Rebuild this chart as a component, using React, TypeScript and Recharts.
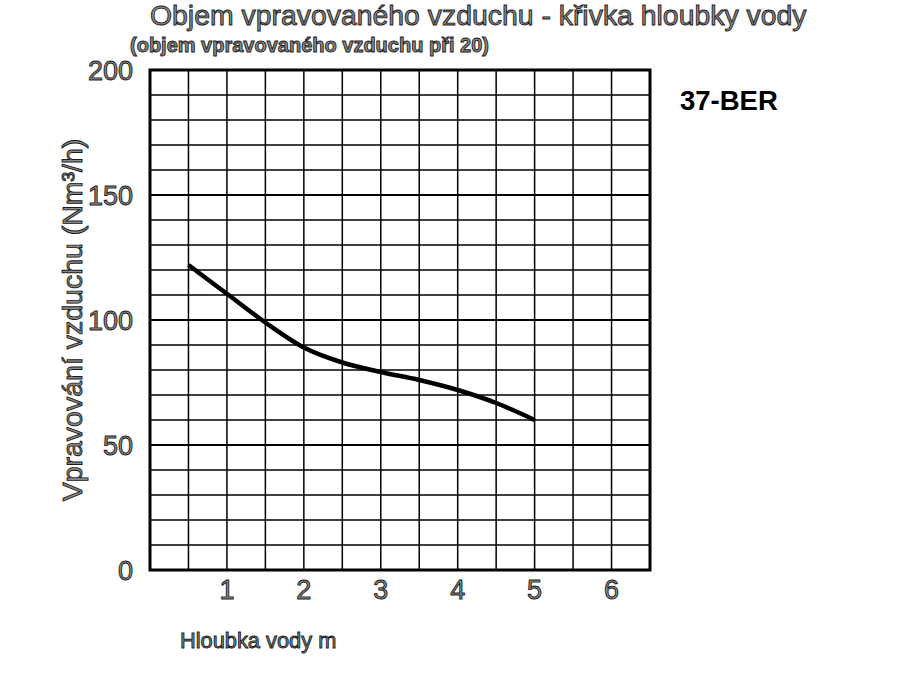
import React from 'react';
import {
  LineChart,
  Line,
  XAxis,
  YAxis,
  CartesianGrid,
  ReferenceLine,
  ReferenceArea,
} from 'recharts';

// water depth (m) vs injected air volume (Nm³/h)
const depths = [0.5, 1, 1.5, 2, 2.5, 3, 3.5, 4, 4.5, 5];
const airVolume = [122, 110.5, 99, 89, 83, 79.2, 76, 72, 66.8, 60];

const xTicks = [1, 2, 3, 4, 5, 6];
const yTicks = [0, 50, 100, 150, 200];
const xGrid = [0.5, 1, 1.5, 2, 2.5, 3, 3.5, 4, 4.5, 5, 5.5, 6];
const yGrid = [10, 20, 30, 40, 60, 70, 80, 90, 110, 120, 130, 140, 160, 170, 180, 190];
const yMajor = [50, 100, 150];

const data = depths.map((d, i) => ({ depth: d, air: airVolume[i] }));

const FONT = '"Liberation Sans", Arial, sans-serif';
const outline = { fill: '#8a8a8a', stroke: '#1a1a1a', strokeWidth: 0.9 };

export default function App() {
  return (
    <div style={{ position: 'absolute', left: 0, top: 0, width: 900, height: 700, background: '#fff' }}>
      <LineChart
        width={900}
        height={700}
        data={data}
        margin={{ top: 70, right: 250, bottom: 100, left: 0 }}
      >
        <CartesianGrid
          stroke="#000"
          strokeWidth={1.5}
          verticalValues={xGrid}
          horizontalValues={yGrid}
        />
        {yMajor.map((v) => (
          <ReferenceLine key={v} y={v} stroke="#000" strokeWidth={2.2} />
        ))}
        <XAxis
          dataKey="depth"
          type="number"
          domain={[0, 6.5]}
          ticks={xTicks}
          height={30}
          tickLine={false}
          axisLine={false}
          tickSize={0}
          tickMargin={10}
          tick={{ fontSize: 27, fontFamily: FONT, ...outline }}
        />
        <YAxis
          type="number"
          domain={[0, 200]}
          ticks={yTicks}
          width={150}
          tickLine={false}
          axisLine={false}
          tickSize={0}
          tickMargin={17}
          tick={{ fontSize: 27, fontFamily: FONT, ...outline }}
        />
        <ReferenceArea
          x1={0}
          x2={6.5}
          y1={0}
          y2={200}
          fill="none"
          stroke="#000"
          strokeWidth={3}
          ifOverflow="visible"
        />
        <Line
          type="monotone"
          dataKey="air"
          stroke="#000"
          strokeWidth={4.5}
          dot={false}
          isAnimationActive={false}
        />
      </LineChart>
      <svg
        width={900}
        height={700}
        style={{ position: 'absolute', left: 0, top: 0, pointerEvents: 'none' }}
        fontFamily={FONT}
      >
        <text x={150} y={25} fontSize={28.4} {...outline}>
          Objem vpravovaného vzduchu - křivka hloubky vody
        </text>
        <text x={130} y={52} fontSize={20} fontWeight="bold" {...outline}>
          (objem vpravovaného vzduchu při 20)
        </text>
        <text x={680} y={110} fontSize={27.5} fontWeight="bold" fill="#000">
          37-BER
        </text>
        <text x={180} y={648} fontSize={21.8} {...outline}>
          Hloubka vody m
        </text>
        <text
          x={82}
          y={320}
          fontSize={28.5}
          textAnchor="middle"
          transform="rotate(-90 82 320)"
          {...outline}
        >
          Vpravování vzduchu (Nm³/h)
        </text>
      </svg>
    </div>
  );
}
